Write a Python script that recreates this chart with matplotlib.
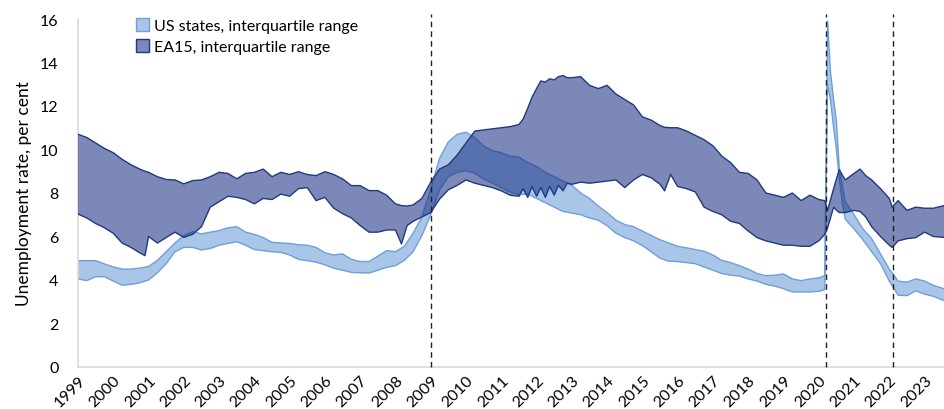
import matplotlib
matplotlib.use('Agg')
import matplotlib.pyplot as plt
from matplotlib.patches import Patch
import numpy as np

plt.rcParams['font.family'] = ['Lato', 'DejaVu Sans']

# US states, interquartile range (decimal years)
us_x = [1999.0, 1999.25, 1999.5, 1999.75, 2000.0, 2000.25, 2000.5, 2000.75,
        2001.0, 2001.25, 2001.5, 2001.75, 2002.0, 2002.25, 2002.5, 2002.75,
        2003.0, 2003.25, 2003.5, 2003.75, 2004.0, 2004.25, 2004.5, 2004.75,
        2005.0, 2005.25, 2005.5, 2005.75, 2006.0, 2006.25, 2006.5, 2006.75,
        2007.0, 2007.25, 2007.5, 2007.75, 2008.0, 2008.25, 2008.5, 2008.75,
        2009.0, 2009.25, 2009.5, 2009.75, 2010.0, 2010.25, 2010.5, 2010.75,
        2011.0, 2011.25, 2011.5, 2011.75, 2012.0, 2012.25, 2012.5, 2012.75,
        2013.0, 2013.25, 2013.5, 2013.75, 2014.0, 2014.25, 2014.5, 2014.75,
        2015.0, 2015.25, 2015.5, 2015.75, 2016.0, 2016.25, 2016.5, 2016.75,
        2017.0, 2017.25, 2017.5, 2017.75, 2018.0, 2018.25, 2018.5, 2018.75,
        2019.0, 2019.25, 2019.5, 2019.75, 2020.0, 2020.17, 2020.25, 2020.33,
        2020.42, 2020.5, 2020.58, 2020.67, 2020.75, 2021.0, 2021.25, 2021.5,
        2021.75, 2022.0, 2022.25, 2022.5, 2022.75, 2023.0, 2023.25, 2023.55]
us_hi = [4.89, 4.89, 4.89, 4.74, 4.6, 4.5, 4.5, 4.55,
         4.62, 4.9, 5.3, 5.7, 6.05, 6.22, 6.12, 6.2,
         6.27, 6.4, 6.45, 6.2, 6.1, 5.95, 5.73, 5.7,
         5.68, 5.62, 5.6, 5.5, 5.25, 5.15, 5.2, 4.95,
         4.85, 4.85, 5.1, 5.35, 5.3, 5.55, 6.15, 6.9,
         8.2, 9.6, 10.35, 10.7, 10.79, 10.55, 10.15, 9.95,
         9.85, 9.7, 9.65, 9.4, 9.22, 8.95, 8.75, 8.55,
         8.35, 8.0, 7.75, 7.4, 7.1, 6.75, 6.55, 6.45,
         6.25, 6.05, 5.85, 5.7, 5.55, 5.48, 5.4, 5.32,
         5.15, 4.9, 4.8, 4.66, 4.5, 4.3, 4.2, 4.22,
         4.28, 4.05, 3.97, 4.05, 4.1, 4.2, 15.9, 13.6,
         12.3, 11.3, 9.2, 8.3, 7.6, 7.0, 6.35, 5.9,
         5.2, 4.5, 3.95, 3.9, 4.05, 3.95, 3.75, 3.6]
us_lo = [4.05, 3.97, 4.15, 4.15, 3.95, 3.76, 3.8, 3.87,
         4.0, 4.33, 4.75, 5.3, 5.5, 5.5, 5.38, 5.45,
         5.6, 5.68, 5.76, 5.6, 5.4, 5.35, 5.3, 5.27,
         5.15, 4.95, 4.89, 4.82, 4.7, 4.54, 4.45, 4.35,
         4.33, 4.32, 4.45, 4.58, 4.66, 4.9, 5.3, 6.05,
         7.0, 8.15, 8.75, 8.95, 9.03, 8.9, 8.65, 8.45,
         8.25, 8.05, 7.92, 7.95, 7.75, 7.55, 7.35, 7.15,
         7.08, 7.0, 6.85, 6.75, 6.5, 6.15, 5.95, 5.8,
         5.58, 5.3, 5.0, 4.86, 4.85, 4.8, 4.75, 4.6,
         4.45, 4.3, 4.22, 4.18, 4.05, 3.95, 3.8, 3.72,
         3.6, 3.45, 3.45, 3.45, 3.48, 3.55, 13.0, 12.3,
         11.0, 10.0, 8.7, 7.5, 6.8, 6.35, 5.85, 5.3,
         4.75, 3.95, 3.3, 3.28, 3.5, 3.35, 3.25, 3.05]

# EA15, interquartile range
ea_x = [1999.0, 1999.25, 1999.5, 1999.75, 2000.0, 2000.25, 2000.5, 2000.75,
        2000.9, 2001.0, 2001.25, 2001.5, 2001.75, 2002.0, 2002.25, 2002.5,
        2002.75, 2003.0, 2003.25, 2003.5, 2003.75, 2004.0, 2004.25, 2004.5,
        2004.75, 2005.0, 2005.25, 2005.5, 2005.75, 2006.0, 2006.25, 2006.5,
        2006.75, 2007.0, 2007.25, 2007.5, 2007.75, 2008.0, 2008.17, 2008.33,
        2008.5, 2008.75, 2009.0, 2009.25, 2009.5, 2009.75, 2010.0, 2010.25,
        2010.5, 2010.75, 2011.0, 2011.25, 2011.5, 2011.62, 2011.75, 2011.87,
        2012.0, 2012.12, 2012.25, 2012.37, 2012.5, 2012.62, 2012.75, 2012.87,
        2013.0, 2013.25, 2013.5, 2013.75, 2014.0, 2014.25,
        2014.5, 2014.75, 2015.0, 2015.25, 2015.5, 2015.63, 2015.8, 2016.0,
        2016.25, 2016.5, 2016.75, 2017.0, 2017.25, 2017.5, 2017.75, 2018.0,
        2018.25, 2018.5, 2018.75, 2019.0, 2019.25, 2019.5, 2019.75, 2020.0,
        2020.17, 2020.25, 2020.42, 2020.58, 2020.75, 2021.0, 2021.17, 2021.33,
        2021.5, 2021.75, 2022.0, 2022.08, 2022.25, 2022.5, 2022.75, 2023.0,
        2023.25, 2023.55]
ea_hi = [10.7, 10.55, 10.3, 10.05, 9.85, 9.55, 9.3, 9.1,
         9.0, 8.95, 8.75, 8.62, 8.6, 8.42, 8.57, 8.6,
         8.75, 8.95, 8.9, 8.65, 8.9, 8.95, 9.1, 8.75,
         8.95, 8.85, 8.98, 8.85, 8.8, 8.98, 8.85, 8.65,
         8.34, 8.34, 8.11, 8.11, 7.9, 7.5, 7.42, 7.4,
         7.45, 7.75, 8.5, 9.1, 9.3, 9.75, 10.3, 10.85,
         10.9, 10.95, 11.0, 11.05, 11.15, 11.4, 11.9, 12.4,
         12.8, 13.15, 13.1, 13.25, 13.2, 13.35, 13.4, 13.3,
         13.3, 13.35, 12.95, 12.8, 12.95, 12.55,
         12.3, 12.05, 11.5, 11.35, 11.1, 11.02, 11.0, 11.0,
         10.85, 10.65, 10.45, 10.17, 9.7, 9.4, 8.95, 8.9,
         8.6, 8.0, 7.9, 7.8, 8.0, 7.65, 7.9, 7.7,
         7.65, 7.2, 8.2, 9.07, 8.6, 8.9, 9.1, 8.8,
         8.6, 8.2, 7.75, 7.35, 7.65, 7.2, 7.35, 7.3,
         7.3, 7.42]
ea_lo = [7.03, 6.85, 6.6, 6.4, 6.15, 5.7, 5.5, 5.25,
         5.12, 6.0, 5.7, 5.95, 6.2, 5.96, 6.1, 6.45,
         7.35, 7.6, 7.85, 7.8, 7.7, 7.5, 7.75, 7.7,
         7.95, 7.85, 8.2, 8.25, 7.65, 7.8, 7.3, 7.05,
         6.85, 6.5, 6.2, 6.2, 6.3, 6.3, 5.66, 6.5,
         6.7, 6.9, 7.1, 7.72, 8.15, 8.35, 8.6, 8.45,
         8.35, 8.25, 8.1, 7.9, 7.85, 8.2, 7.8, 8.3,
         7.85, 8.25, 7.8, 8.3, 7.9, 8.35, 8.1, 8.45,
         8.4, 8.5, 8.45, 8.5, 8.55, 8.6,
         8.25, 8.6, 8.85, 8.7, 8.4, 8.1, 8.85, 8.3,
         8.2, 8.05, 7.35, 7.15, 7.0, 6.7, 6.6, 6.25,
         5.95, 5.8, 5.7, 5.6, 5.6, 5.55, 5.55, 5.8,
         6.1, 6.4, 7.34, 7.1, 7.1, 7.2, 7.15, 6.9,
         6.45, 6.0, 5.6, 5.5, 5.8, 5.9, 5.95, 6.2,
         6.0, 5.96]

events = [2009.0, 2020.2, 2022.1]
years = list(range(1999, 2024))

fig = plt.figure(figsize=(9.44, 4.10), dpi=100)
ax = fig.add_axes([78/944, 42/410, 866/944, 348/410])

us_fill = '#a9c6e8'
us_edge = '#6f9fd9'
ea_fill = (28/255, 50/255, 133/255, 0.58)
ea_edge = '#22397f'

ax.fill_between(us_x, us_lo, us_hi, facecolor=us_fill, edgecolor='none', zorder=2)
ax.plot(us_x, us_hi, color=us_edge, lw=1, zorder=2)
ax.plot(us_x, us_lo, color=us_edge, lw=1, zorder=2)

ax.fill_between(ea_x, ea_lo, ea_hi, facecolor=ea_fill, edgecolor='none', zorder=3)
ax.plot(ea_x, ea_hi, color=ea_edge, lw=1, zorder=3)
ax.plot(ea_x, ea_lo, color=ea_edge, lw=1, zorder=3)

ax.vlines(events, 0, 16.25, colors='#222222', linestyles=(0, (4, 3)), lw=1,
          clip_on=False, zorder=4)

ax.set_xlim(1999, 2023.55)
ax.set_ylim(0, 16)
ax.set_yticks(range(0, 17, 2))
ax.set_xticks(years)
ax.set_xticklabels([str(y) for y in years], rotation=45, ha='right', va='top',
                   rotation_mode='anchor')
ax.tick_params(axis='both', length=0, labelsize=11.5, colors='black')
ax.tick_params(axis='y', pad=14)
ax.tick_params(axis='x', pad=4)
for s in ['top', 'right']:
    ax.spines[s].set_visible(False)
for s in ['left', 'bottom']:
    ax.spines[s].set_color('#d9d9d9')
    ax.spines[s].set_linewidth(1.2)

ax.set_ylabel('Unemployment rate, per cent', fontsize=12.5, labelpad=6)

handles = [Patch(facecolor=us_fill, edgecolor=us_edge, label='US states, interquartile range'),
           Patch(facecolor='#7b88b8', edgecolor=ea_edge, label='EA15, interquartile range')]
ax.legend(handles=handles, loc='upper left', bbox_to_anchor=(0.06, 1.02), frameon=False,
          fontsize=11.5, handlelength=0.8, handleheight=0.8, handletextpad=0.3,
          labelspacing=0.4, borderaxespad=0)

fig.savefig('out.png', dpi=100)
